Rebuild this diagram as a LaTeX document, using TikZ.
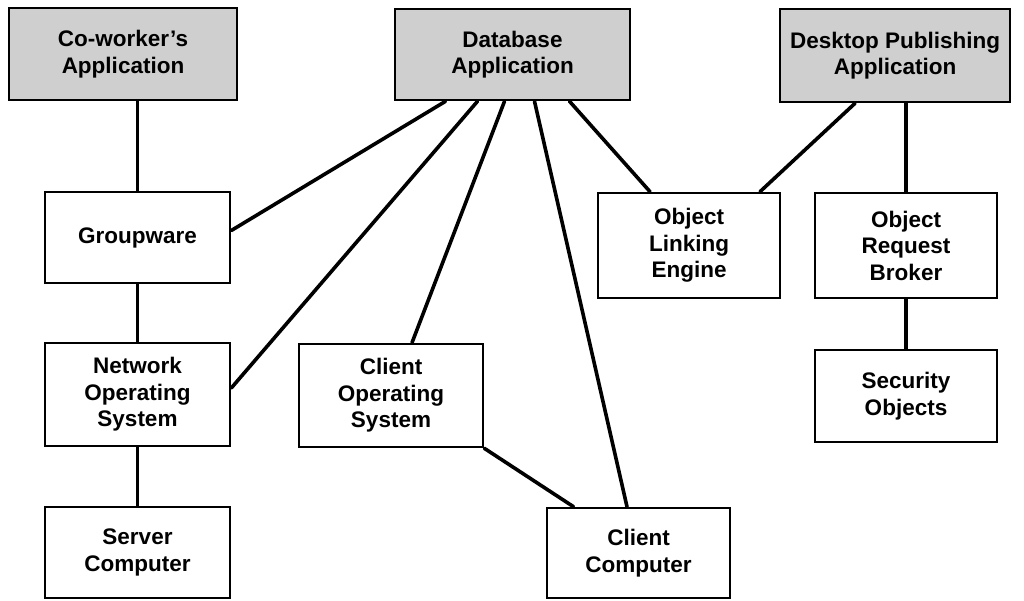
\documentclass[tikz,border=0pt]{standalone}
\usepackage{fontspec}
\setmainfont{Liberation Sans}
\begin{document}
\begin{tikzpicture}[x=1pt,y=-1pt,
  box/.style={draw=black,line width=2.6pt,rectangle,align=center,
    inner sep=0pt,font=\bfseries\fontsize{22.5}{26.5}\selectfont},
  appbox/.style={box,fill=black!19},
  link/.style={draw=black,line width=3.6pt,line cap=round}]
\useasboundingbox (0,0) rectangle (1024,600);

% applications along the top
\node[appbox,minimum width=228pt,minimum height=92pt] (cw) at (123,54) {Co-worker's\\Application};
\node[appbox,minimum width=235pt,minimum height=91pt] (db) at (512.5,54.5) {Database\\Application};
\node[appbox,minimum width=230pt,minimum height=93pt] (dp) at (895,55.5) {Desktop Publishing\\Application};

% service layers
\node[box,minimum width=185pt,minimum height=91pt] (grp) at (137.5,237.5) {Groupware};
\node[box,minimum width=185pt,minimum height=103pt] (nos) at (137.5,394.5) {Network\\Operating\\System};
\node[box,minimum width=185pt,minimum height=91pt] (srv) at (137.5,552.5) {Server\\Computer};
\node[box,minimum width=184pt,minimum height=103pt] (cos) at (391,395.5) {Client\\Operating\\System};
\node[box,minimum width=183pt,minimum height=90pt] (cc) at (638.5,553) {Client\\Computer};
\node[box,minimum width=182pt,minimum height=105pt] (ole) at (689,245.5) {Object\\Linking\\Engine};
\node[box,minimum width=182pt,minimum height=105pt] (orb) at (906,245.5) {Object\\Request\\Broker};
\node[box,minimum width=182pt,minimum height=92pt] (sec) at (906,396) {Security\\Objects};

% vertical stacks
\draw[link] (grp.north |- cw.south) -- (grp.north);
\draw[link] (grp.south) -- (nos.north);
\draw[link] (nos.south) -- (srv.north);
\draw[link] (orb.north |- dp.south) -- (orb.north);
\draw[link] (orb.south) -- (sec.north);

% links fanning out of the database application
\draw[link] ([xshift=-67pt]db.south) -- ([yshift=7pt]grp.east);
\draw[link] ([xshift=-35pt]db.south) -- ([yshift=6.5pt]nos.east);
\draw[link] ([xshift=-8pt]db.south) -- ([xshift=21pt]cos.north);
\draw[link] ([xshift=22pt]db.south) -- ([xshift=-11.5pt]cc.north);
\draw[link] ([xshift=57pt]db.south) -- ([xshift=-39pt]ole.north);

% remaining links
\draw[link] ([xshift=-40pt]dp.south) -- ([xshift=71pt]ole.north);
\draw[link] (cos.south east) -- ([xshift=-65pt]cc.north);
\end{tikzpicture}
\end{document}
